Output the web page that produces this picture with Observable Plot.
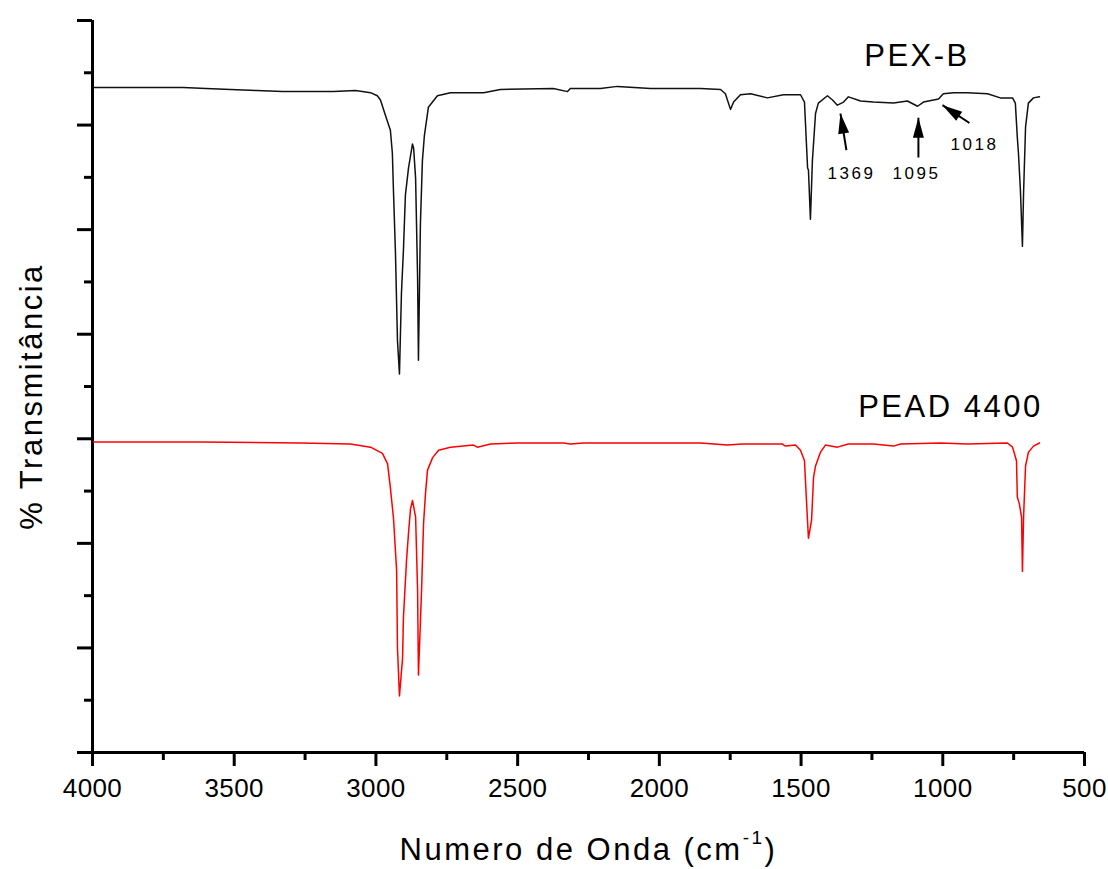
<!DOCTYPE html>
<html>
<head>
<meta charset="utf-8">
<script src="https://cdn.jsdelivr.net/npm/d3@7"></script>
<script src="https://cdn.jsdelivr.net/npm/@observablehq/plot@0.6"></script>
<style>
  html, body { margin: 0; padding: 0; background: #fff; }
  .ftir text { letter-spacing: 2.5px; }
  .ftir g[aria-label="x-axis tick label"] text { letter-spacing: 0.4px; }
</style>
</head>
<body>
<div id="chart"></div>
<script>
// ---- Data ----
// PEX-B spectrum (black)
const pexWave = [3996,3679,3600,3513,3420,3330,3266,3150,3072,3019,2995,2984,2966,2949,2942,2938,2931,2924,2917,2910,2903,2896,2885,2871,2867,2860,2853,2850,2843,2836,2829,2815,2783,2737,2620,2561,2374,2324,2314,2208,2148,2031,1855,1784,1767,1749,1738,1714,1678,1619,1562,1502,1488,1477,1474,1467,1460,1449,1439,1407,1389,1372,1350,1333,1290,1245,1174,1125,1089,1068,1015,998,962,913,842,797,754,744,737,733,726,719,715,708,698,680,659];
const pexTrans = [63.6,63.6,63.5,63.4,63.3,63.2,63.2,63.2,63.3,63.1,62.8,62.4,60.9,59.5,57.3,53.6,47.7,39.4,36.2,43.9,48.0,53.3,55.9,58.2,57.8,54.9,45.4,37.5,50.6,56.6,59.0,61.7,62.8,63.1,63.1,63.4,63.5,63.2,63.5,63.5,63.7,63.5,63.5,63.4,63.0,61.5,62.2,62.9,63.0,62.6,62.9,62.9,62.2,55.9,55.7,51.0,56.6,61.1,62.1,62.8,62.4,61.9,62.2,62.7,62.3,62.2,62.1,62.3,61.8,62.2,62.5,63.0,63.1,63.1,63.0,62.6,62.6,62.1,58.8,57.3,53.7,48.4,53.5,59.8,62.1,62.6,62.7];
// PEAD 4400 spectrum (red)
const peadWave = [3996,3619,3266,3090,3019,2977,2959,2949,2938,2927,2924,2917,2906,2903,2892,2885,2878,2871,2860,2853,2850,2839,2832,2825,2818,2800,2779,2737,2656,2642,2596,2500,2338,2314,2268,2031,1855,1760,1707,1566,1555,1520,1502,1488,1481,1474,1463,1456,1449,1432,1414,1372,1333,1245,1174,1149,1008,913,772,754,740,737,730,722,719,715,708,698,680,659];
const peadTrans = [29.7,29.7,29.6,29.5,29.2,28.6,27.6,25.3,22.4,17.4,10.0,5.4,9.0,12.9,18.4,21.0,23.3,24.1,22.5,15.5,7.4,15.5,21.9,24.8,27.0,28.2,28.9,29.2,29.4,29.2,29.5,29.6,29.6,29.5,29.6,29.6,29.6,29.4,29.5,29.5,29.3,29.4,28.9,27.9,24.1,20.5,22.2,26.3,27.4,28.7,29.4,29.2,29.5,29.5,29.3,29.5,29.6,29.5,29.6,29.2,27.9,24.4,23.8,22.5,17.3,22.5,27.4,28.7,29.3,29.6];

// Series labels
const seriesNames = ["PEX-B", "PEAD 4400"];
const seriesLabelWave = [1091, 973];
const seriesLabelTrans = [66.6, 33.0];

// Peak annotations (PEX-B)
const annLabels = ["1369", "1095", "1018"];
const annTipWave = [1361, 1086, 1001];
const annTipTrans = [61.1, 60.7, 61.9];
const annTailWave = [1340, 1086, 906];
const annTailTrans = [57.6, 56.9, 60.2];
const annTextWave = [1322, 1093, 888];
const annTextTrans = [55.4, 55.4, 58.1];

// Axes
const xMajorTicks = [4000, 3500, 3000, 2500, 2000, 1500, 1000, 500];
const xMinorTicks = [3750, 3250, 2750, 2250, 1750, 1250, 750];
const yMajorTicks = [0, 10, 20, 30, 40, 50, 60, 70];
const yMinorTicks = [5, 15, 25, 35, 45, 55, 65];
const xDomain = [4000, 500];
const yDomain = [0, 70];
const xTitleMain = "Numero de Onda (cm";
const xTitleSup = "-1";
const xTitleEnd = ")";
const yTitle = "% Transmitância";

// ---- Build ----
const W = 1108, H = 869, mL = 92, mR = 24, mT = 20, mB = 117;
const pex = pexWave.map((w, i) => ({w, t: pexTrans[i]}));
const pead = peadWave.map((w, i) => ({w, t: peadTrans[i]}));
const series = seriesNames.map((name, i) => ({name, w: seriesLabelWave[i], t: seriesLabelTrans[i]}));

const sx = d3.scaleLinear(xDomain, [mL, W - mR]);
const sy = d3.scaleLinear(yDomain, [H - mB, mT]);
const ann = annLabels.map((label, i) => {
  const dx = sx(annTipWave[i]) - sx(annTailWave[i]);
  const dy = sy(annTipTrans[i]) - sy(annTailTrans[i]);
  return {
    label,
    tw: annTipWave[i], tt: annTipTrans[i],
    sw: annTailWave[i], st: annTailTrans[i],
    lw: annTextWave[i], lt: annTextTrans[i],
    angle: Math.atan2(dx, -dy) * 180 / Math.PI
  };
});

const font = "'Liberation Sans', Arial, Helvetica, sans-serif";

const chart = Plot.plot({
  width: W, height: H,
  marginLeft: mL, marginRight: mR, marginTop: mT, marginBottom: mB,
  className: "ftir",
  style: {fontFamily: font, background: "#fff", color: "#000"},
  x: {domain: xDomain},
  y: {domain: yDomain},
  marks: [
    Plot.axisX(xMajorTicks, {tickSize: 14, tickPadding: 12, fontSize: 26, strokeWidth: 3, label: null, tickFormat: d => String(d)}),
    Plot.axisX(xMinorTicks, {tickSize: 8, strokeWidth: 3, label: null, tickFormat: () => ""}),
    Plot.axisY(yMajorTicks, {tickSize: 15, strokeWidth: 3, label: null, tickFormat: () => ""}),
    Plot.axisY(yMinorTicks, {tickSize: 8, strokeWidth: 3, label: null, tickFormat: () => ""}),
    Plot.ruleY([yDomain[0]], {stroke: "#000", strokeWidth: 3}),
    Plot.ruleX([xDomain[0]], {stroke: "#000", strokeWidth: 3}),
    Plot.line(pex, {x: "w", y: "t", stroke: "#111", strokeWidth: 1.5}),
    Plot.line(pead, {x: "w", y: "t", stroke: "#ff0000", strokeWidth: 1.5}),
    Plot.text(series, {x: "w", y: "t", text: "name", fontSize: 31, lineAnchor: "middle", textAnchor: "middle", fill: "#000"}),
    Plot.link(ann, {x1: "sw", y1: "st", x2: "tw", y2: "tt", stroke: "#000", strokeWidth: 2}),
    Plot.vector(ann, {x: "tw", y: "tt", rotate: "angle", length: 20, r: 5.5, shape: "spike", anchor: "end", fill: "#000", stroke: "none"}),
    Plot.text(ann, {x: "lw", y: "lt", text: "label", fontSize: 17, lineAnchor: "middle", textAnchor: "middle", fill: "#000"}),
    Plot.text([xTitleMain + xTitleSup + xTitleEnd], {frameAnchor: "bottom", lineAnchor: "middle", textAnchor: "middle", dy: 98, fontSize: 31, fill: "#000"}),
    Plot.text([yTitle], {frameAnchor: "left", lineAnchor: "middle", textAnchor: "middle", rotate: -90, dx: -60, dy: 10, fontSize: 31, fill: "#000"})
  ]
});

// Superscript for the x-axis title
d3.select(chart).selectAll("text")
  .filter(function() { return this.textContent === xTitleMain + xTitleSup + xTitleEnd; })
  .each(function() {
    const t = d3.select(this);
    t.text(null);
    t.append("tspan").text(xTitleMain);
    t.append("tspan").attr("dy", -16).attr("font-size", 19).text(xTitleSup);
    t.append("tspan").attr("dy", 16).text(xTitleEnd);
  });

document.getElementById("chart").appendChild(chart);
</script>
</body>
</html>
